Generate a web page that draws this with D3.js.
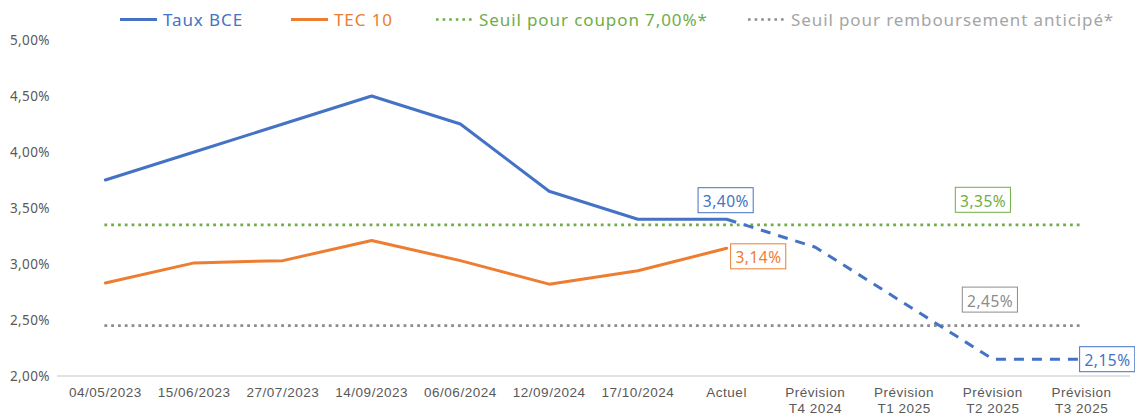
<!DOCTYPE html>
<html>
<head>
<meta charset="utf-8">
<script src="https://cdn.jsdelivr.net/npm/d3@7/dist/d3.min.js"></script>
<style>
  html, body { margin: 0; padding: 0; background: #fff; }
  svg { display: block; font-family: "Noto Sans", sans-serif; }
</style>
</head>
<body>
<svg id="chart" width="1135" height="418"></svg>
<script>
// categories (x axis), "\n" splits a label on two lines
const categories = [
    "04/05/2023", "15/06/2023", "27/07/2023", "14/09/2023", "06/06/2024",
    "12/09/2024", "17/10/2024", "Actuel",
    "Prévision\nT4 2024", "Prévision\nT1 2025", "Prévision\nT2 2025", "Prévision\nT3 2025"
];
const tauxBCE          = [3.75, 4.00, 4.25, 4.50, 4.25, 3.65, 3.40, 3.40, null, null, null, null];
const tauxBCEPrevision = [null, null, null, null, null, null, null, 3.40, 3.15, 2.65, 2.15, 2.15];
const tec10            = [2.83, 3.01, 3.03, 3.21, 3.03, 2.82, 2.94, 3.14, null, null, null, null];
const seuilCoupon        = 3.35;
const seuilRemboursement = 2.45;
const yTicks = [2.0, 2.5, 3.0, 3.5, 4.0, 4.5, 5.0];

const BLUE = "#4472C4", ORANGE = "#ED7D31", GREEN = "#70AD47", GREY = "#A5A5A5";
const fmt = v => d3.format(".2f")(v).replace(".", ",") + "%";

const svg = d3.select("#chart");

const x = d3.scaleBand().domain(categories).range([61, 1126]);
const cx = c => x(c) + x.bandwidth() / 2;
const y = d3.scaleLinear().domain([2, 5]).range([376, 40]);

// baseline
svg.append("line")
    .attr("x1", 57).attr("x2", 1130)
    .attr("y1", y(2)).attr("y2", y(2))
    .attr("stroke", "#D9D9D9").attr("stroke-width", 1.5);

// y axis labels
svg.append("g").attr("transform", "translate(50,0)")
    .call(d3.axisLeft(y).tickValues(yTicks).tickSize(0).tickPadding(0).tickFormat(fmt))
    .call(g => g.select(".domain").remove())
    .call(g => g.selectAll("text").attr("fill", "#595959").attr("font-size", 13.5)
        .attr("letter-spacing", 0.4).attr("font-family", "Noto Sans, sans-serif"));

// x axis labels (two lines for forecasts)
const xAxis = svg.append("g").attr("transform", `translate(0,${y(2)})`)
    .call(d3.axisBottom(x).tickSize(0).tickPadding(0).tickFormat(""))
    .call(g => g.select(".domain").remove());
xAxis.selectAll(".tick").append("text")
    .attr("fill", "#595959").attr("font-size", 13.5).attr("letter-spacing", 0.5)
    .attr("text-anchor", "middle")
    .each(function(d) {
        d3.select(this).selectAll("tspan").data(d.split("\n")).enter().append("tspan")
            .attr("x", 0).attr("y", (_, i) => 21 + i * 16)
            .text(t => t);
    });

// thresholds
const first = categories[0], last = categories[categories.length - 1];
[[seuilCoupon, GREEN], [seuilRemboursement, "#8C8C8C"]].forEach(([v, c]) => {
    svg.append("line")
        .attr("x1", cx(first) - 1).attr("x2", cx(last))
        .attr("y1", y(v)).attr("y2", y(v))
        .attr("stroke", c).attr("stroke-width", 2.8)
        .attr("stroke-dasharray", "2.8,4");
});

const lineGen = d3.line()
    .defined(d => d.v != null)
    .x(d => cx(d.c)).y(d => y(d.v));
const pts = arr => arr.map((v, i) => ({ c: categories[i], v }));

svg.append("path").datum(pts(tec10))
    .attr("fill", "none").attr("stroke", ORANGE).attr("stroke-width", 3)
    .attr("stroke-linejoin", "round").attr("stroke-linecap", "round")
    .attr("d", lineGen);

svg.append("path").datum(pts(tauxBCEPrevision))
    .attr("fill", "none").attr("stroke", BLUE).attr("stroke-width", 3)
    .attr("stroke-dasharray", "10,8").attr("stroke-linejoin", "round")
    .attr("d", lineGen);

svg.append("path").datum(pts(tauxBCE))
    .attr("fill", "none").attr("stroke", BLUE).attr("stroke-width", 3)
    .attr("stroke-linejoin", "round").attr("stroke-linecap", "round")
    .attr("d", lineGen);

// boxed data labels
function boxLabel(px, py, text, color, anchor) {
    const g = svg.append("g");
    const t = g.append("text")
        .attr("fill", color).attr("font-size", 15.5).attr("letter-spacing", 0.5)
        .attr("text-anchor", "middle").attr("dominant-baseline", "central")
        .text(text);
    const bw = t.node().getComputedTextLength() + 9, bh = 25;
    const bx = anchor === "left" ? px : px - bw / 2;
    g.insert("rect", "text")
        .attr("x", bx).attr("y", py - bh / 2)
        .attr("width", bw).attr("height", bh)
        .attr("fill", "#fff").attr("stroke", color).attr("stroke-width", 1);
    t.attr("x", bx + bw / 2 + 0.3).attr("y", py + 1);
}
const iAct = categories.indexOf("Actuel");
boxLabel(cx(categories[iAct]) - 1, y(tauxBCE[iAct]) - 19, fmt(tauxBCE[iAct]), BLUE);
boxLabel(cx(categories[iAct]) + 4, y(tec10[iAct]) + 8, fmt(tec10[iAct]), ORANGE, "left");
boxLabel(cx(categories[10]) - 10, y(seuilCoupon) - 25, fmt(seuilCoupon), GREEN);
boxLabel(cx(categories[10]) - 3, y(seuilRemboursement) - 26, fmt(seuilRemboursement), "#8C8C8C");
boxLabel(cx(last) - 2, y(tauxBCEPrevision[11]), fmt(tauxBCEPrevision[11]), BLUE, "left");

// legend
const legend = [
    { label: "Taux BCE", color: BLUE, dash: null, x: 120 },
    { label: "TEC 10", color: ORANGE, dash: null, x: 291 },
    { label: "Seuil pour coupon 7,00%*", color: GREEN, dash: "2.6,4", x: 436 },
    { label: "Seuil pour remboursement anticipé*", color: GREY, dash: "2.6,4", x: 748, line: "#8C8C8C" }
];
legend.forEach(item => {
    const lg = svg.append("g").attr("transform", `translate(${item.x},19.5)`);
    lg.append("line").attr("x1", 0).attr("x2", 37).attr("y1", 0).attr("y2", 0)
        .attr("stroke", item.line || item.color).attr("stroke-width", item.dash ? 2.6 : 3)
        .attr("stroke-dasharray", item.dash);
    lg.append("text").attr("x", 43).attr("y", 6.5)
        .attr("fill", item.color).attr("font-size", 17).attr("letter-spacing", 0.9)
        .text(item.label);
});
</script>
</body>
</html>
